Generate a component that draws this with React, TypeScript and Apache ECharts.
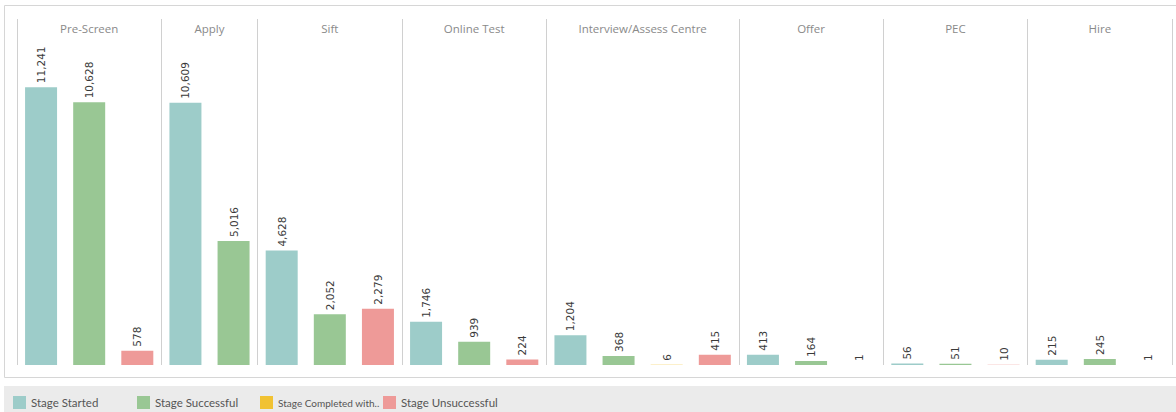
import React, { useEffect, useRef } from "react";
import * as echarts from "echarts";

const stages = ["Pre-Screen", "Apply", "Sift", "Online Test", "Interview/Assess Centre", "Offer", "PEC", "Hire"];
const seriesNames = ["Stage Started", "Stage Successful", "Stage Completed with..", "Stage Unsuccessful"];
const seriesColors = ["#9DCCC9", "#99C794", "#F1C232", "#EE9A98"];
const stageStarted = [11241, 10609, 4628, 1746, 1204, 413, 56, 215];
const stageSuccessful = [10628, 5016, 2052, 939, 368, 164, 51, 245];
const stageCompletedWith: (number | null)[] = [null, null, null, null, 6, null, null, null];
const stageUnsuccessful: (number | null)[] = [578, null, 2279, 224, 415, 1, 10, 1];

export default function App() {
  const ref = useRef<HTMLDivElement>(null);
  useEffect(() => {
    if (!ref.current) return;
    const chart = echarts.init(ref.current, null, { renderer: "svg" });
    const all = [stageStarted, stageSuccessful, stageCompletedWith, stageUnsuccessful];
    const slots: string[] = [];
    const seriesData: (number | null)[][] = [[], [], [], []];
    const bounds: number[] = [0];
    stages.forEach((st, si) => {
      all.forEach((arr, k) => {
        const v = arr[si];
        if (v === null || v === undefined) return;
        slots.push(st + "|" + seriesNames[k]);
        for (let j = 0; j < 4; j++) seriesData[j].push(j === k ? v : null);
      });
      bounds.push(slots.length);
    });
    const total = slots.length;

    const barSeries = seriesNames.map((name, k) => ({
      name,
      type: "bar",
      xAxisIndex: 0,
      yAxisIndex: 0,
      data: seriesData[k],
      barWidth: 32,
      barGap: "-100%",
      itemStyle: { color: seriesColors[k] },
      emphasis: { disabled: true },
      label: {
        show: true,
        position: "top",
        rotate: 90,
        align: "left",
        verticalAlign: "middle",
        distance: 4,
        fontFamily: "DejaVu Sans",
        fontSize: 10.5,
        color: "#3a3a3a",
        formatter: (p: any) => Number(p.value).toLocaleString("en-US"),
      },
    }));

    const decoSeries = {
      name: "deco",
      type: "line",
      xAxisIndex: 1,
      yAxisIndex: 0,
      data: [],
      silent: true,
      markLine: {
        silent: true,
        symbol: ["none", "none"],
        label: { show: false },
        lineStyle: { color: "#d0d0d0", width: 1, type: "solid" },
        emphasis: { disabled: true },
        data: bounds.map((b) => ({ xAxis: b })),
      },
      markArea: {
        silent: true,
        itemStyle: { color: "rgba(0,0,0,0)" },
        label: {
          show: true,
          position: "insideTop",
          distance: 3,
          fontFamily: "Open Sans",
          fontSize: 11.5,
          color: "#8a8a8a",
        },
        data: stages.map((s, i) => [{ name: s, xAxis: bounds[i] }, { xAxis: bounds[i + 1] }]),
      },
    };

    const legendLefts = [13, 137, 260, 383];
    const legendFontSizes = [11.5, 11.5, 10, 11.5];
    const legends = seriesNames.map((name, k) => ({
      data: [name],
      left: legendLefts[k],
      top: 396,
      padding: 0,
      itemWidth: 13,
      itemHeight: 13,
      icon: "rect",
      selectedMode: false,
      textStyle: { fontFamily: "Lato", fontSize: legendFontSizes[k], color: "#555" },
    }));

    chart.setOption({
      animation: false,
      backgroundColor: "#fff",
      grid: { left: 17, right: 4, top: 19, bottom: 47 },
      xAxis: [
        {
          type: "category",
          data: slots,
          axisLine: { show: false },
          axisTick: { show: false },
          axisLabel: { show: false },
          splitLine: { show: false },
        },
        { type: "value", min: 0, max: total, show: false },
      ],
      yAxis: {
        type: "value",
        min: 0,
        max: 14000,
        show: false,
        splitLine: { show: false },
      },
      legend: legends,
      graphic: [
        {
          type: "rect",
          z: -10,
          shape: { x: 4.5, y: 5.5, width: 1180, height: 372 },
          style: { fill: "none", stroke: "#d6d6d6", lineWidth: 1 },
          silent: true,
        },
        {
          type: "rect",
          z: -10,
          shape: { x: 4, y: 386, width: 1172, height: 26 },
          style: { fill: "#ebebeb" },
          silent: true,
        },
      ],
      series: [...barSeries, decoSeries],
    });
    return () => chart.dispose();
  }, []);
  return <div ref={ref} style={{ position: "absolute", left: 0, top: 0, width: 1176, height: 412 }} />;
}
